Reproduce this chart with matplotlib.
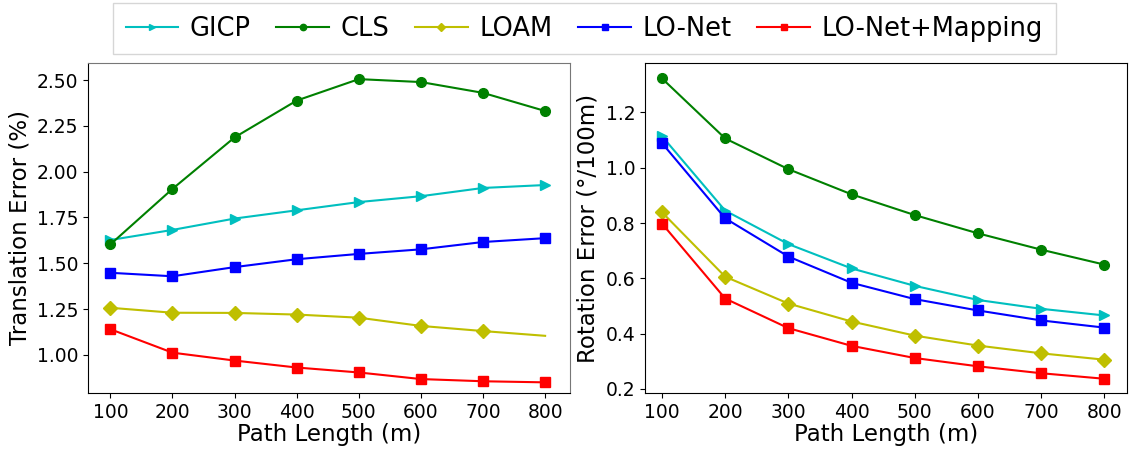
import numpy as np
import matplotlib
matplotlib.use("Agg")
import matplotlib.pyplot as plt

path_len = [100, 200, 300, 400, 500, 600, 700, 800]
methods = ["GICP", "CLS", "LOAM", "LO-Net", "LO-Net+Mapping"]

# translation error (%)
trans_gicp = [1.627, 1.682, 1.744, 1.789, 1.834, 1.866, 1.911, 1.927]
trans_cls = [1.603, 1.906, 2.187, 2.388, 2.505, 2.489, 2.430, 2.331]
trans_loam = [1.257, 1.230, 1.229, 1.220, 1.203, 1.158, 1.130, 1.104]
trans_lonet = [1.448, 1.429, 1.479, 1.522, 1.551, 1.576, 1.616, 1.637]
trans_map = [1.140, 1.012, 0.969, 0.931, 0.904, 0.868, 0.856, 0.850]

# rotation error (deg/100m)
rot_gicp = [1.114, 0.845, 0.724, 0.636, 0.573, 0.522, 0.490, 0.466]
rot_cls = [1.323, 1.106, 0.995, 0.904, 0.829, 0.763, 0.704, 0.650]
rot_loam = [0.839, 0.606, 0.509, 0.444, 0.393, 0.357, 0.329, 0.306]
rot_lonet = [1.089, 0.817, 0.679, 0.584, 0.525, 0.484, 0.448, 0.422]
rot_map = [0.798, 0.527, 0.420, 0.356, 0.312, 0.282, 0.257, 0.237]

colors = ["c", "g", "y", "b", "r"]
markers = [">", "o", "D", "s", "s"]

fig = plt.figure(figsize=(11.3, 4.5), dpi=100)
ax1 = fig.add_axes([0.0779, 0.1267, 0.4265, 0.7333])
ax2 = fig.add_axes([0.5708, 0.1267, 0.4265, 0.7333])

trans = [trans_gicp, trans_cls, trans_loam, trans_lonet, trans_map]
rot = [rot_gicp, rot_cls, rot_loam, rot_lonet, rot_map]

lines = []
for i in range(5):
    # LOAM has no marker on the last point in the translation plot
    me = list(range(7)) if methods[i] == "LOAM" else None
    l, = ax1.plot(path_len, trans[i], color=colors[i], marker=markers[i],
                  markersize=7, linewidth=1.5, markevery=me, label=methods[i])
    lines.append(l)
    ax2.plot(path_len, rot[i], color=colors[i], marker=markers[i],
             markersize=7, linewidth=1.5)

ax1.set_yticks([1.00, 1.25, 1.50, 1.75, 2.00, 2.25, 2.50])
ax1.set_yticklabels(["1.00", "1.25", "1.50", "1.75", "2.00", "2.25", "2.50"])
ax1.set_ylim(0.792, 2.593)
ax1.set_xlim(64, 840)
ax1.set_ylabel("Translation Error (%)", fontsize=16.5)
ax1.spines["top"].set_color("#777777")
ax1.spines["right"].set_color("#777777")

ax2.set_yticks([0.2, 0.4, 0.6, 0.8, 1.0, 1.2])
ax2.set_ylim(0.1855, 1.379)
ax2.set_xlim(73, 836)
ax2.set_ylabel("Rotation Error (°/100m)", fontsize=16.5)

for ax in (ax1, ax2):
    ax.set_xticks(path_len)
    ax.set_xlabel("Path Length (m)", fontsize=16.5, labelpad=1)
    ax.tick_params(labelsize=13.5)

fig.legend(handles=lines, loc="upper center", bbox_to_anchor=(0.517, 0.994),
           borderaxespad=0, ncol=5, fontsize=18.5, markerscale=0.65,
           handlelength=2.05, columnspacing=1.0, handletextpad=0.45,
           fancybox=False, borderpad=0.5)

fig.savefig("out.png", dpi=100)
